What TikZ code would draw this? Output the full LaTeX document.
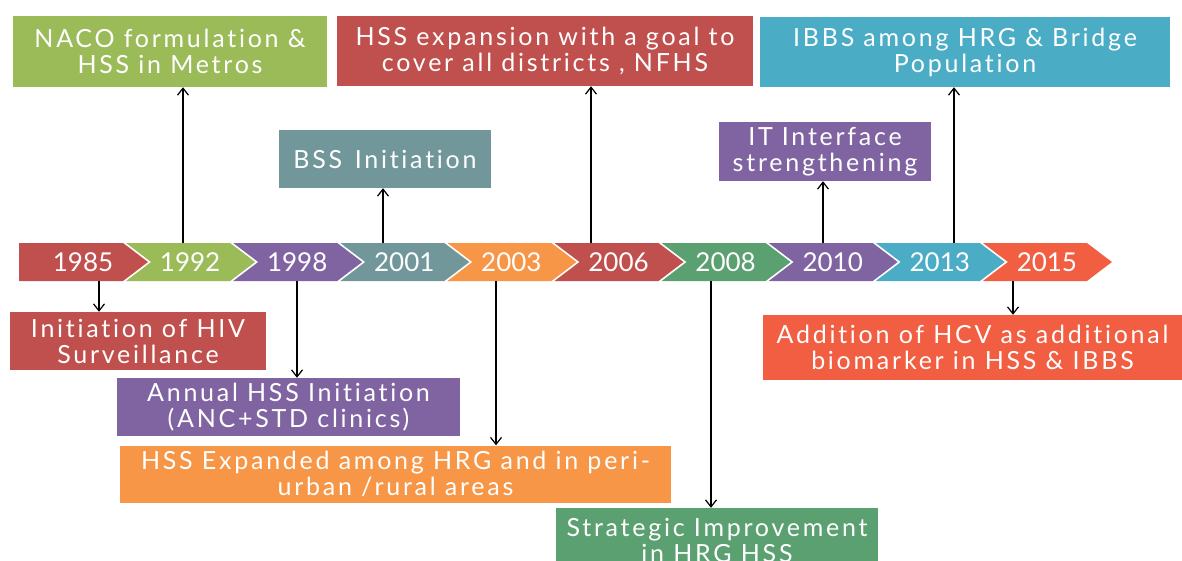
\documentclass[tikz,border=0pt]{standalone}
\usepackage{fontspec}
\setmainfont{Lato}[LetterSpace=11, Ligatures=NoCommon]
\newfontfamily\yearfont{Lato}[Ligatures=NoCommon]
\usetikzlibrary{arrows.meta}
\definecolor{cRed}{HTML}{C0504D}
\definecolor{cGreen}{HTML}{9BBB59}
\definecolor{cPurple}{HTML}{8064A2}
\definecolor{cSlate}{HTML}{72979A}
\definecolor{cOrange}{HTML}{F79646}
\definecolor{cJade}{HTML}{5AA070}
\definecolor{cTeal}{HTML}{4BACC6}
\definecolor{cTomato}{HTML}{F15E42}
\begin{document}
\begin{tikzpicture}[x=1pt, y=-1pt, >={Straight Barb[length=7pt,width=11pt]},
  box/.style={fill=#1, text=white, inner sep=0pt, align=center,
    font=\fontsize{25}{26}\selectfont},
  year/.style={text=white, font=\yearfont\fontsize{26}{26}\selectfont},
  link/.style={->, line width=1.2pt}]
\useasboundingbox (0,0) rectangle (1182,560);
\clip (0,0) rectangle (1182,560);
% Zeitstrahl
\foreach \yr/\col [count=\i from 0] in {1985/cRed, 1992/cGreen, 1998/cPurple,
    2001/cSlate, 2003/cOrange, 2006/cRed, 2008/cJade, 2010/cPurple,
    2013/cTeal, 2015/cTomato}{
  \pgfmathsetmacro\s{19+107.1*\i}
  \pgfmathsetmacro\n{\i>0 ? 25 : 0}
  \fill[\col] (\s,243) -- ++(104,0) -- ++(25,19) -- ++(-25,19) -- ++(-104,0)
    -- ++(\n,-19) -- cycle;
  \node[year] (y\yr) at (\s+64,262) {\yr};
}
% Kästen oben
\node[box=cGreen, minimum width=314, minimum height=71] (naco) at (170,51.5)
  {NACO formulation \&\\HSS in Metros};
\node[box=cRed, minimum width=416, minimum height=70] (goal) at (545,51)
  {HSS expansion with a goal to\\cover all districts , NFHS};
\node[box=cTeal, minimum width=410, minimum height=70] (ibbs) at (965,52)
  {IBBS among HRG \& Bridge\\Population};
\node[box=cSlate, minimum width=212, minimum height=58] (bss) at (385,159)
  {BSS\enspace Initiation};
\node[box=cPurple, minimum width=212, minimum height=59] (itf) at (825,151.5)
  {IT Interface\\strengthening};
% Kästen unten
\node[box=cRed, minimum width=256, minimum height=58] (hiv) at (138,341)
  {Initiation of HIV\\Surveillance};
\node[box=cPurple, minimum width=343, minimum height=58] (anc) at (288.5,407)
  {Annual HSS Initiation\\(ANC+STD clinics)};
\node[box=cOrange, minimum width=551, minimum height=57] (peri) at (395.5,474)
  {HSS Expanded among HRG and in peri-\\urban /rural areas};
\node[box=cJade, minimum width=322, minimum height=64] (strat) at (717,540)
  {Strategic Improvement\\in HRG HSS};
\node[box=cTomato, minimum width=419, minimum height=65] (hcv) at (972.5,347.5)
  {Addition of HCV as additional\\biomarker in HSS \& IBBS};
% Pfeile
\coordinate (p1985) at (99,281);
\coordinate (p1992) at (183,243);
\coordinate (p1998) at (297,281);
\coordinate (p2001) at (383,243);
\coordinate (p2003) at (496,281);
\coordinate (p2006) at (591,243);
\coordinate (p2008) at (711,281);
\coordinate (p2010) at (823,243);
\coordinate (p2013) at (954,243);
\coordinate (p2015) at (1013,281);
\draw[link] (p1985) -- (p1985 |- hiv.north);
\draw[link] (p1992) -- (p1992 |- naco.south);
\draw[link] (p1998) -- (p1998 |- anc.north);
\draw[link] (p2001) -- (p2001 |- bss.south);
\draw[link] (p2003) -- (p2003 |- peri.north);
\draw[link] (p2006) -- (p2006 |- goal.south);
\draw[link] (p2008) -- (p2008 |- strat.north);
\draw[link] (p2010) -- (p2010 |- itf.south);
\draw[link] (p2013) -- (p2013 |- ibbs.south);
\draw[link] (p2015) -- (p2015 |- hcv.north);
\end{tikzpicture}
\end{document}
